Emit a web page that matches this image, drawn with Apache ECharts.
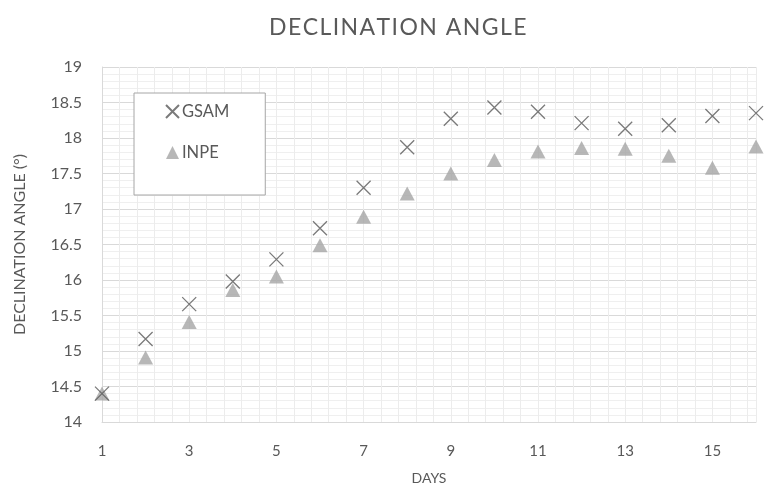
<!DOCTYPE html>
<html>
<head>
<meta charset="utf-8">
<script src="https://cdn.jsdelivr.net/npm/echarts@6/dist/echarts.min.js"></script>
<style>
  html, body { margin: 0; padding: 0; background: #fff; }
  #chart { width: 765px; height: 490px; }
</style>
</head>
<body>
<div id="chart"></div>
<script>
const days = [1, 2, 3, 4, 5, 6, 7, 8, 9, 10, 11, 12, 13, 14, 15, 16];
const gsam = [14.40, 15.17, 15.66, 15.98, 16.29, 16.73, 17.30, 17.87, 18.27, 18.43, 18.37, 18.21, 18.13, 18.18, 18.31, 18.35];
const inpe = [14.40, 14.91, 15.41, 15.86, 16.05, 16.49, 16.89, 17.22, 17.50, 17.69, 17.81, 17.86, 17.85, 17.75, 17.58, 17.88];

const chart = echarts.init(document.getElementById("chart"));

const FONT = "Lato";
const TEXT = "#595959";

// spread the title letters a little, like the original
const titleText = "DECLINATION ANGLE".split("").join("\u200A");

const option = {
	title: {
		text: titleText,
		left: 264,
		top: 11,
		textStyle: {
			fontFamily: FONT,
			fontSize: 23,
			fontWeight: "normal",
			color: TEXT
		}
	},
	legend: {
		left: 134,
		top: 93,
		orient: "vertical",
		backgroundColor: "#fff",
		borderColor: "#a6a6a6",
		borderWidth: 1,
		padding: [10, 36, 34, 31],
		itemWidth: 13,
		itemHeight: 13,
		itemGap: 24,
		textStyle: { fontFamily: FONT, fontSize: 16.5, color: TEXT, padding: [0, 0, 0, -2] },
		data: ["GSAM", "INPE"]
	},
	grid: {
		left: 102,
		right: 9,
		top: 67,
		bottom: 63
	},
	xAxis: {
		type: "value",
		min: 1,
		max: 16,
		interval: 0.4,
		name: "DAYS",
		nameLocation: "middle",
		nameGap: 49,
		nameTextStyle: { fontFamily: FONT, fontSize: 14, color: TEXT },
		axisLine: { lineStyle: { color: "#d9d9d9" } },
		axisTick: { show: false },
		axisLabel: {
			margin: 22,
			fontFamily: FONT,
			fontSize: 15,
			color: TEXT,
			showMaxLabel: false,
			formatter: v => {
				const k = (v - 1) / 2;
				return Math.abs(k - Math.round(k)) < 1e-6 ? String(Math.round(v)) : "";
			}
		},
		splitLine: { show: true, lineStyle: { color: "#ececec", width: 1 } }
	},
	yAxis: {
		type: "value",
		min: 14,
		max: 19,
		interval: 0.5,
		name: "DECLINATION ANGLE (°)",
		nameLocation: "middle",
		nameGap: 74,
		nameTextStyle: { fontFamily: FONT, fontSize: 16, color: TEXT },
		axisLine: { show: true, lineStyle: { color: "#d9d9d9" } },
		axisTick: { show: false },
		axisLabel: { margin: 20, fontFamily: FONT, fontSize: 16, color: TEXT },
		splitLine: { lineStyle: { color: "#d9d9d9", width: 1 } },
		minorTick: { show: false, splitNumber: 5 },
		minorSplitLine: { show: true, lineStyle: { color: "#efefef", width: 1 } }
	},
	series: [
		{
			name: "INPE",
			type: "scatter",
			symbol: "triangle",
			symbolSize: [15, 14],
			itemStyle: { color: "#a5a5a5" },
			data: days.map((d, i) => [d, inpe[i]]),
			z: 2
		},
		{
			name: "GSAM",
			type: "scatter",
			symbol: "path://M0,0L10,10M10,0L0,10",
			symbolSize: 14,
			itemStyle: { color: "#595959", borderColor: "#595959", borderWidth: 1.3 },
			data: days.map((d, i) => [d, gsam[i]]),
			z: 3
		}
	]
};

chart.setOption(option);
window.onresize = chart.resize;
</script>
</body>
</html>
